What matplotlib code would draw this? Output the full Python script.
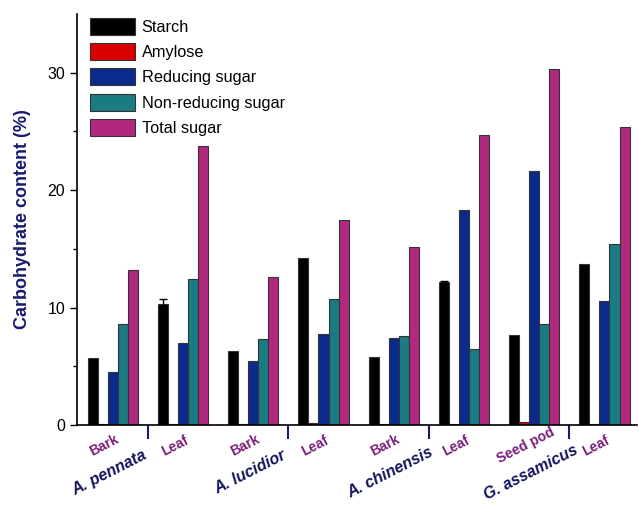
import numpy as np
import matplotlib
matplotlib.use('Agg')
import matplotlib.pyplot as plt

plt.rcParams['font.family'] = ['Liberation Sans', 'DejaVu Sans']

# carbohydrate data (%) per tissue
samples = ['Bark', 'Leaf', 'Bark', 'Leaf', 'Bark', 'Leaf', 'Seed pod', 'Leaf']
species = ['A. pennata', 'A. lucidior', 'A. chinensis', 'G. assamicus']
series = ['Starch', 'Amylose', 'Reducing sugar', 'Non-reducing sugar', 'Total sugar']

starch = [5.7, 10.3, 6.3, 14.2, 5.8, 12.2, 7.7, 13.7]
amylose = [0.05, 0.05, 0.05, 0.2, 0.05, 0.1, 0.25, 0.12]
reducing = [4.5, 6.95, 5.45, 7.75, 7.45, 18.35, 21.6, 10.6]
nonreducing = [8.6, 12.4, 7.35, 10.75, 7.55, 6.45, 8.6, 15.4]
total = [13.2, 23.8, 12.6, 17.5, 15.2, 24.7, 30.3, 25.4]
starch_err = [np.nan, 0.4, np.nan, np.nan, np.nan, 0.1, np.nan, np.nan]

colors = ['#000000', '#d90000', '#0b2b8c', '#1a7b82', '#b0297f']

fig = plt.figure(figsize=(6.39, 5.07), dpi=100)
ax = fig.add_axes([0.1205, 0.1617, 0.876, 0.8107])

x = np.arange(len(samples))
w = 0.143
data = [starch, amylose, reducing, nonreducing, total]
errs = [starch_err, None, None, None, None]
for i, (vals, c, name) in enumerate(zip(data, colors, series)):
    ax.bar(x + (i - 2) * w, vals, w, color=c, edgecolor='#333333', linewidth=0.8,
           label=name, yerr=errs[i], error_kw=dict(ecolor='black', capsize=3, lw=1))

ax.set_xlim(-0.51, 7.46)
ax.set_ylim(0, 35)
ax.set_yticks([0, 10, 20, 30])
ax.set_yticks([5, 15, 25], minor=True)
ax.tick_params(axis='y', which='major', direction='out', length=5, width=1, labelsize=11.5)
ax.tick_params(axis='y', which='minor', direction='out', length=3, width=1)

# separators between species on the x axis
seps = [0.5, 2.5, 4.5, 6.5]
ax.set_xticks(seps)
ax.set_xticklabels([])
ax.tick_params(axis='x', direction='out', length=10, width=1.5, color='#1a1a6e')

for s in ['top', 'right']:
    ax.spines[s].set_visible(False)
ax.spines['left'].set_linewidth(1.2)
ax.spines['bottom'].set_linewidth(1.2)

ax.set_ylabel('Carbohydrate content (%)', fontsize=13, fontweight='bold',
              color='#1a1a6e', labelpad=12)

trans = ax.get_xaxis_transform()
for xi, lab in zip(x, samples):
    ax.text(xi - 0.12, -0.05, lab, transform=trans, rotation=27, ha='center', va='center',
            fontsize=10, fontweight='bold', color='#7b1f7b')
for sx, sp in zip(seps, species):
    ax.text(sx - 0.55, -0.115, sp, transform=trans, rotation=27, ha='center', va='center',
            fontsize=11.5, fontweight='bold', fontstyle='italic', color='#14145e')

ax.legend(loc='upper left', bbox_to_anchor=(0.005, 1.015), frameon=False, fontsize=11.7,
          handlelength=2.8, handleheight=1.25, labelspacing=0.5, handletextpad=0.4,
          borderaxespad=0.2)

fig.savefig('out.png', dpi=100)
